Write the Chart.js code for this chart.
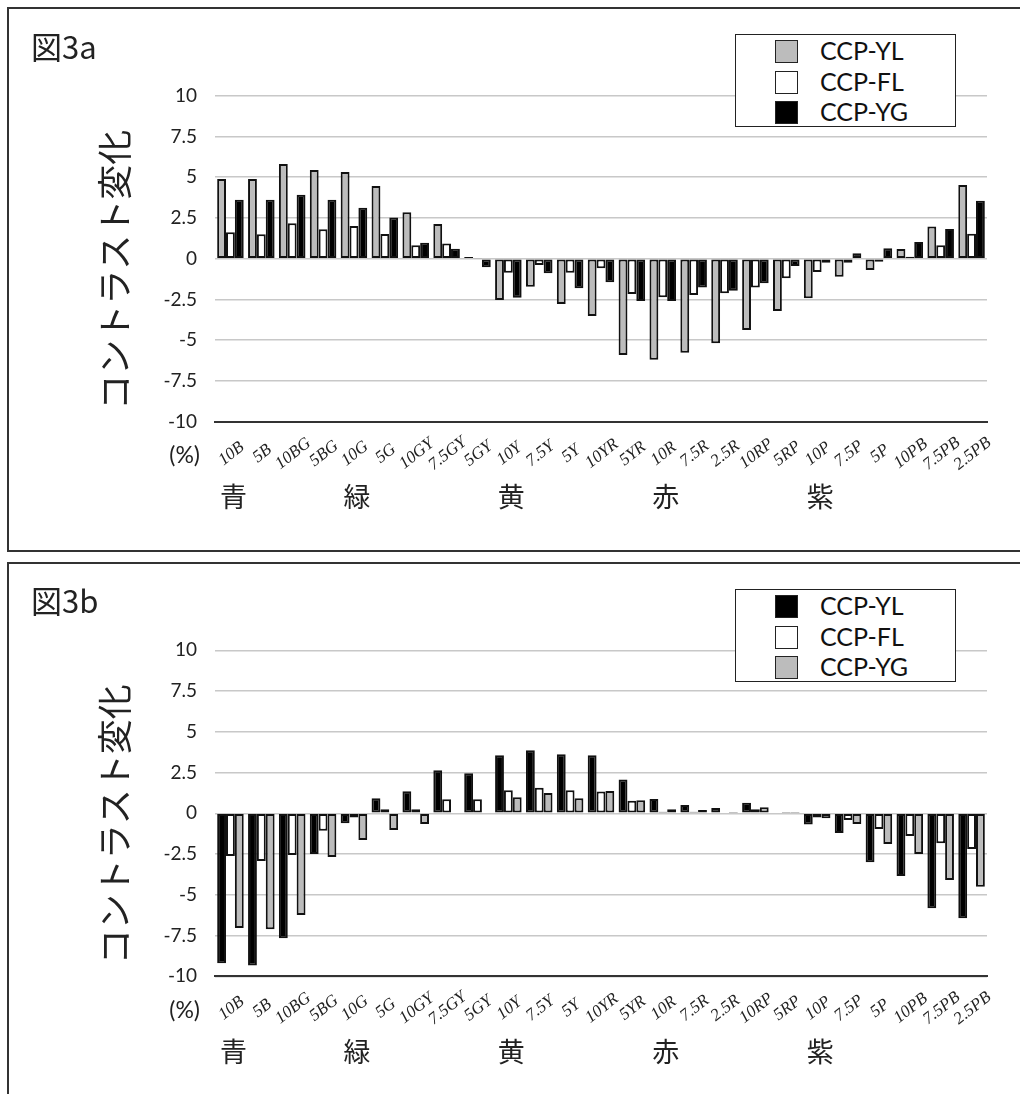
<!DOCTYPE html>
<html>
<head>
<meta charset="utf-8">
<script src="https://cdn.jsdelivr.net/npm/chart.js@4.4.1/dist/chart.umd.min.js"></script>
<style>
  body { margin: 0; background: #fff; width: 1020px; height: 1094px; overflow: hidden; position: relative; }
  .panel { position: absolute; left: 7px; width: 1040px; border: 2px solid #333; box-sizing: border-box; }
  #panel-a { top: 7px; height: 545px; }
  #panel-b { top: 562px; height: 600px; }
  canvas { position: absolute; left: 0; }
  #chart-a { top: 0; }
  #chart-b { top: 563px; }
  .fig { position: absolute; left: 31px; font-family: "Noto Sans CJK JP"; font-size: 31px; line-height: 1; color: #222; }
  .legend { position: absolute; left: 735px; width: 221px; height: 93px; border: 1.5px solid #222; box-sizing: border-box; background: #fff; }
  .legend .row { position: absolute; left: 0; height: 30px; width: 100%; }
  .legend .sw { position: absolute; left: 39px; top: 3px; width: 21px; height: 21px; border: 1.5px solid #222; }
  .legend .txt { position: absolute; left: 84px; top: -1px; font-family: Lato, sans-serif; font-size: 25px; line-height: 28px; color: #111; }
</style>
</head>
<body>
<div class="panel" id="panel-a"></div>
<div class="panel" id="panel-b"></div>
<canvas id="chart-a" width="1020" height="551"></canvas>
<canvas id="chart-b" width="1020" height="531"></canvas>
<div class="fig" style="top:30px">図3a</div>
<div class="fig" style="top:584px">図3b</div>
<div class="legend" id="legend-a" style="top:34px"></div>
<div class="legend" id="legend-b" style="top:589px"></div>

<script>
  // Munsell hue categories
  const CATEGORIES = ['10B', '5B', '10BG', '5BG', '10G', '5G', '10GY', '7.5GY', '5GY', '10Y', '7.5Y', '5Y',
    '10YR', '5YR', '10R', '7.5R', '2.5R', '10RP', '5RP', '10P', '7.5P', '5P', '10PB', '7.5PB', '2.5PB'];
  const SERIES_NAMES = ['CCP-YL', 'CCP-FL', 'CCP-YG'];
  const Y_TICKS = [-10, -7.5, -5, -2.5, 0, 2.5, 5, 7.5, 10];
  const HUE_NAMES = ['青', '緑', '黄', '赤', '紫'];
  const HUE_INDEX = [0, 4, 9, 14, 19];
  const Y_TITLE = 'コントラスト変化';

  // Fig 3a
  const A_YL = [4.89, 4.89, 5.81, 5.44, 5.32, 4.46, 2.85, 2.13, 0.1, -2.53, -1.72, -2.78, -3.52,
    -5.91, -6.2, -5.77, -5.19, -4.37, -3.21, -2.43, -1.1, -0.69, 0.6, 1.98, 4.52];
  const A_FL = [1.62, 1.5, 2.17, 1.8, 2.0, 1.52, 0.82, 0.94, 0.02, -0.86, -0.39, -0.86, -0.59,
    -2.17, -2.37, -2.23, -2.12, -1.76, -1.2, -0.82, -0.25, -0.18, 0.12, 0.82, 1.53];
  const A_YG = [3.62, 3.62, 3.93, 3.62, 3.13, 2.52, 0.98, 0.61, -0.53, -2.39, -0.9, -1.82, -1.45,
    -2.6, -2.6, -1.76, -1.96, -1.51, -0.45, -0.25, 0.33, 0.64, 1.02, 1.82, 3.56];

  // Fig 3b
  const B_YL = [-9.2, -9.33, -7.67, -2.5, -0.61, 0.92, 1.35, 2.64, 2.45, 3.56, 3.87, 3.62, 3.56,
    2.08, 0.88, 0.51, 0.33, 0.65, 0.05, -0.68, -1.21, -3.01, -3.85, -5.83, -6.44];
  const B_FL = [-2.62, -2.93, -2.56, -1.07, -0.25, 0.25, 0.25, 0.86, 0.86, 1.41, 1.57, 1.41, 1.33,
    0.77, 0.1, 0.1, 0.05, 0.25, 0.02, -0.25, -0.41, -0.96, -1.39, -1.84, -2.19];
  const B_YG = [-7.04, -7.12, -6.24, -2.68, -1.64, -1.02, -0.65, 0.05, 0.05, 0.98, 1.25, 0.92, 1.37,
    0.8, 0.25, 0.2, 0.08, 0.37, 0.02, -0.3, -0.65, -1.88, -2.5, -4.09, -4.5];

  const GREY = '#bcbcbc', WHITE = '#ffffff', BLACK = '#000000';
  const COLORS_A = [GREY, WHITE, BLACK];
  const COLORS_B = [BLACK, WHITE, GREY];

  // labels under the axis, hue names, y title
  const extraText = {
    id: 'extraText',
    afterDraw(chart) {
      const ctx = chart.ctx;
      const x = chart.scales.x;
      const area = chart.chartArea;
      ctx.save();
      ctx.fillStyle = '#222';

      ctx.font = 'italic 17px "Liberation Serif"';
      ctx.textAlign = 'center';
      ctx.textBaseline = 'middle';
      CATEGORIES.forEach((c, i) => {
        ctx.save();
        ctx.translate(x.getPixelForValue(i) + 1, area.bottom + 32);
        ctx.rotate(-38 * Math.PI / 180);
        ctx.fillText(c, 0, 0);
        ctx.restore();
      });

      ctx.font = '23px Lato';
      ctx.textAlign = 'right';
      ctx.fillText('(%)', area.left - 15, area.bottom + 34);

      ctx.font = '27px "Noto Sans CJK JP"';
      ctx.textAlign = 'center';
      HUE_NAMES.forEach((h, i) => {
        ctx.fillText(h, x.getPixelForValue(HUE_INDEX[i]) + 3, area.bottom + 75);
      });

      ctx.font = '35px "Noto Sans CJK JP"';
      ctx.translate(115, (area.top + area.bottom) / 2 + 11);
      ctx.rotate(-Math.PI / 2);
      ctx.fillText(Y_TITLE, 0, 0);
      ctx.restore();
    }
  };

  function makeChart(id, series, colors, areaTop, areaBottom) {
    const canvas = document.getElementById(id);
    return new Chart(canvas, {
      type: 'bar',
      data: {
        labels: CATEGORIES,
        datasets: series.map((vals, i) => ({
          label: SERIES_NAMES[i],
          data: vals,
          backgroundColor: colors[i],
          borderColor: '#111',
          borderWidth: 2,
          borderSkipped: false,
          categoryPercentage: 0.86,
          barPercentage: 1.0,
        })),
      },
      options: {
        responsive: false,
        animation: false,
        events: [],
        layout: { padding: { left: 155, right: 33, top: areaTop, bottom: canvas.height - areaBottom } },
        plugins: { legend: { display: false }, tooltip: { enabled: false } },
        scales: {
          x: {
            grid: { display: false },
            border: { display: true, color: '#333', width: 2 },
            ticks: { display: false },
            afterFit: s => { s.height = 0; },
          },
          y: {
            min: -10,
            max: 10,
            afterBuildTicks: s => { s.ticks = Y_TICKS.map(v => ({ value: v })); },
            afterFit: s => { s.width = 60; },
            grid: { color: '#c8c8c8', lineWidth: 1.5, drawTicks: false },
            border: { display: false },
            ticks: {
              padding: 18,
              color: '#222',
              font: { family: 'Lato', size: 19 },
              callback: v => String(v),
            },
          },
        },
      },
      plugins: [extraText],
    });
  }

  function buildLegend(id, colors) {
    const box = document.getElementById(id);
    SERIES_NAMES.forEach((name, i) => {
      const row = document.createElement('div');
      row.className = 'row';
      row.style.top = (2 + i * 30.5) + 'px';
      row.innerHTML = `<div class="sw" style="background:${colors[i]}"></div><div class="txt">${name}</div>`;
      box.appendChild(row);
    });
  }

  makeChart('chart-a', [A_YL, A_FL, A_YG], COLORS_A, 95.7, 421.7);
  makeChart('chart-b', [B_YL, B_FL, B_YG], COLORS_B, 650.3 - 563, 976.3 - 563);
  buildLegend('legend-a', COLORS_A);
  buildLegend('legend-b', COLORS_B);
</script>
</body>
</html>
